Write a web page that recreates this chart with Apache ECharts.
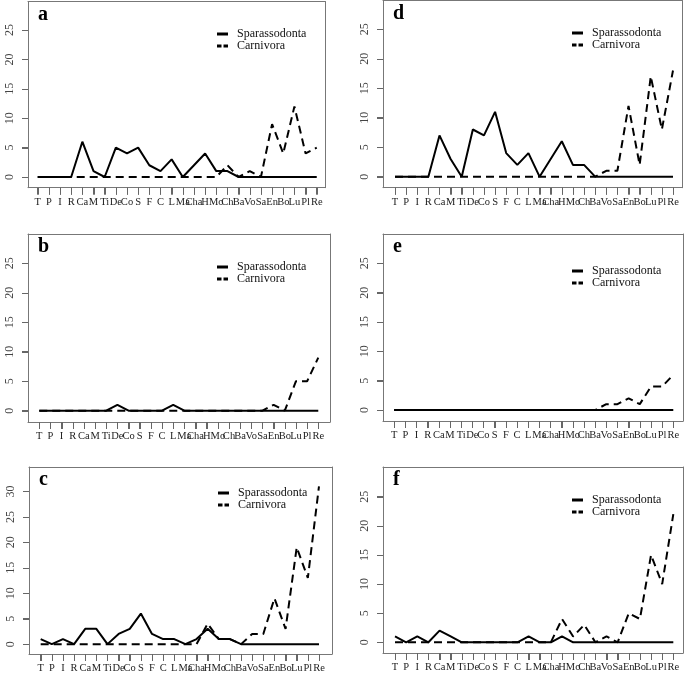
<!DOCTYPE html>
<html><head><meta charset="utf-8">
<script src="https://cdn.jsdelivr.net/npm/echarts@6/dist/echarts.min.js"></script>
<style>html,body{margin:0;padding:0;background:#fff}#c{width:685px;height:674px}</style>
</head><body><div id="c"></div>
<script>
const categories = ['T','P','I','R','Ca','M','Ti','De','Co','S','F','C','L','Ma','Cha','H','Mo','Ch','Ba','Vo','Sa','En','Bo','Lu','Pl','Re'];
const yTicks25 = [0,5,10,15,20,25];
const yTicks30 = [0,5,10,15,20,25,30];
const seriesNames = ['Sparassodonta','Carnivora'];

const sparA = [0,0,0,0,6,1,0,5,4,5,2,1,3,0,2,4,1,1,0,0,0,0,0,0,0,0];
const carnA = [0,0,0,0,0,0,0,0,0,0,0,0,0,0,0,0,0,2,0,1,0,9,4,12,4,5];
const sparB = [0,0,0,0,0,0,0,1,0,0,0,0,1,0,0,0,0,0,0,0,0,0,0,0,0,0];
const carnB = [0,0,0,0,0,0,0,0,0,0,0,0,0,0,0,0,0,0,0,0,0,1,0,5,5,9];
const sparC = [1,0,1,0,3,3,0,2,3,6,2,1,1,0,1,3,1,1,0,0,0,0,0,0,0,0];
const carnC = [0,0,0,0,0,0,0,0,0,0,0,0,0,0,0,4,1,1,0,2,2,9,3,19,13,31];
const sparD = [0,0,0,0,7,3,0,8,7,11,4,2,4,0,3,6,2,2,0,0,0,0,0,0,0,0];
const carnD = [0,0,0,0,0,0,0,0,0,0,0,0,0,0,0,0,0,0,0,1,1,12,2,17,8,18];
const sparE = [0,0,0,0,0,0,0,0,0,0,0,0,0,0,0,0,0,0,0,0,0,0,0,0,0,0];
const carnE = [0,0,0,0,0,0,0,0,0,0,0,0,0,0,0,0,0,0,0,1,1,2,1,4,4,6];
const sparF = [1,0,1,0,2,1,0,0,0,0,0,0,1,0,0,1,0,0,0,0,0,0,0,0,0,0];
const carnF = [0,0,0,0,0,0,0,0,0,0,0,0,0,0,0,4,1,3,0,1,0,5,4,15,10,22];

const panels = [
  {letter:'a', spar:sparA, carn:carnA, ticks:yTicks25, box:[28,1.5,325,187.7], x:[-0.87,25.74], y:[-1.82,29.85], leg:[217,28]},
  {letter:'b', spar:sparB, carn:carnB, ticks:yTicks25, box:[28,234,330,422], x:[-1.01,26.05], y:[-1.92,29.97], leg:[217,261]},
  {letter:'c', spar:sparC, carn:carnC, ticks:yTicks30, box:[29,467,332,656], x:[-1.05,26.17], y:[-1.94,34.8], leg:[218,487]},
  {letter:'d', spar:sparD, carn:carnD, ticks:yTicks25, box:[383,0.5,682,187.7], x:[-1.08,25.81], y:[-1.87,29.88], leg:[572,27]},
  {letter:'e', spar:sparE, carn:carnE, ticks:yTicks25, box:[383,234,683,421], x:[-1.0,25.87], y:[-1.87,29.99], leg:[572,265]},
  {letter:'f', spar:sparF, carn:carnF, ticks:yTicks25, box:[383,467,683,653], x:[-1.08,25.87], y:[-1.84,30.1], leg:[572,494]}
];

const FONT = 'Liberation Serif';
const BOX = '#777';
const TICK = '#666';
const idx = categories.map((c,i)=>i);
const grid=[], xAxis=[], yAxis=[], series=[], title=[], legend=[];
panels.forEach((p,k)=>{
  const [L,T,R,B] = p.box;
  grid.push({left:L, top:T, width:R-L, height:B-T});
  const xi = xAxis.length, yi = yAxis.length;
  xAxis.push({type:'value', gridIndex:k, min:p.x[0], max:p.x[1],
    axisLine:{show:true, onZero:false, lineStyle:{color:BOX, width:1}}, splitLine:{show:false},
    axisTick:{show:true, customValues:idx, length:7, lineStyle:{color:TICK, width:1}},
    axisLabel:{customValues:idx, showMinLabel:true, showMaxLabel:true, formatter:v=>categories[Math.round(v)], fontFamily:FONT, fontSize:10.5, color:'#222', margin:9}});
  xAxis.push({type:'value', gridIndex:k, position:'top', min:p.x[0], max:p.x[1],
    axisLine:{show:true, onZero:false, lineStyle:{color:BOX, width:1}}, splitLine:{show:false},
    axisTick:{show:false}, axisLabel:{show:false}});
  yAxis.push({type:'value', gridIndex:k, min:p.y[0], max:p.y[1],
    axisLine:{show:true, onZero:false, lineStyle:{color:BOX, width:1}}, splitLine:{show:false},
    axisTick:{show:true, customValues:p.ticks, length:6, lineStyle:{color:TICK, width:1}},
    axisLabel:{customValues:p.ticks, showMinLabel:true, showMaxLabel:true, rotate:90, fontFamily:FONT, fontSize:12, color:'#444', margin:12}});
  yAxis.push({type:'value', gridIndex:k, position:'right', min:p.y[0], max:p.y[1],
    axisLine:{show:true, onZero:false, lineStyle:{color:BOX, width:1}}, splitLine:{show:false},
    axisTick:{show:false}, axisLabel:{show:false}});
  // tick marks placed through the axes' own scales
  series.push({type:'custom', xAxisIndex:xi, yAxisIndex:yi, silent:true, clip:false, z:1,
    data:idx.map(i=>[i, p.y[0]]),
    renderItem:(params, api)=>{ const pt = api.coord([api.value(0), api.value(1)]); const x = Math.round(pt[0])+0.5;
      return {type:'line', shape:{x1:x, y1:pt[1], x2:x, y2:pt[1]+7}, style:{stroke:TICK, lineWidth:1}}; }});
  series.push({type:'custom', xAxisIndex:xi, yAxisIndex:yi, silent:true, clip:false, z:1,
    data:p.ticks.map(v=>[p.x[0], v]),
    renderItem:(params, api)=>{ const pt = api.coord([api.value(0), api.value(1)]); const y = Math.round(pt[1])+0.5;
      return {type:'line', shape:{x1:pt[0]-6, y1:y, x2:pt[0], y2:y}, style:{stroke:TICK, lineWidth:1}}; }});
  series.push({name:seriesNames[0], type:'line', xAxisIndex:xi, yAxisIndex:yi, symbol:'none',
    data:p.spar.map((v,i)=>[i,v]), itemStyle:{color:'#000'}, lineStyle:{color:'#000', width:2, type:'solid'}, z:3});
  series.push({name:seriesNames[1], type:'line', xAxisIndex:xi, yAxisIndex:yi, symbol:'none',
    data:p.carn.map((v,i)=>[i,v]), itemStyle:{color:'#000'}, lineStyle:{color:'#000', width:2, type:[8,5]}, z:2});
  title.push({text:p.letter, left:L+10, top:T+3, padding:0,
    textStyle:{fontFamily:FONT, fontWeight:'bold', fontSize:20, color:'#000'}});
  legend.push({left:p.leg[0], top:p.leg[1], orient:'vertical', padding:0, itemGap:0,
    itemWidth:11, itemHeight:3, selectedMode:false,
    data:[{name:seriesNames[0], icon:'path://M0,0H11V3H0Z', itemStyle:{color:'#000', borderWidth:0}},
          {name:seriesNames[1], icon:'path://M0,0H4.5V3H0Z M6.5,0H11V3H6.5Z', itemStyle:{color:'#000', borderWidth:0}}],
    textStyle:{fontFamily:FONT, fontSize:12, color:'#111', lineHeight:12, padding:[0,0,0,4]}});
});

const chart = echarts.init(document.getElementById('c'), null, {renderer:'canvas'});
chart.setOption({animation:false, backgroundColor:'#fff', title, legend, grid, xAxis, yAxis, series});
</script>
</body></html>
